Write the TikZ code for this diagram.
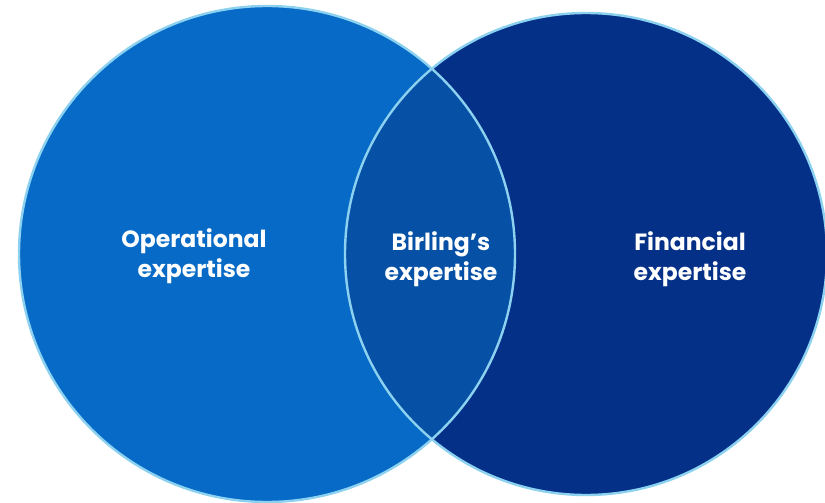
\documentclass[tikz,border=0pt]{standalone}
\usepackage{fontspec}
\setmainfont{Poppins}
\definecolor{leftblue}{RGB}{6,106,198}
\definecolor{midblue}{RGB}{6,80,166}
\definecolor{rightblue}{RGB}{4,48,136}
\definecolor{rimblue}{RGB}{140,210,240}
\begin{document}
\begin{tikzpicture}[x=1pt,y=-1pt,
  rim/.style={draw=rimblue,line width=2.4pt},
  lbl/.style={text=white,font=\bfseries\fontsize{23.5}{30}\selectfont,align=center,inner sep=0pt}]
\useasboundingbox (0,0) rectangle (825,503);
\coordinate (cl) at (267,254);
\coordinate (cr) at (586,254);
\fill[leftblue] (cl) circle[radius=248];
\fill[rightblue] (cr) circle[radius=241];
\begin{scope}
  \clip (cl) circle[radius=248];
  \fill[midblue] (cr) circle[radius=241];
\end{scope}
\draw[rim] (cl) circle[radius=248];
\draw[rim] (cr) circle[radius=241];
\node[lbl] (op) at (194,256) {Operational\\expertise};
\node[lbl] (bi) at (441,259) {Birling’s\\expertise};
\node[lbl] (fi) at (690,259) {Financial\\expertise};
\end{tikzpicture}
\end{document}
